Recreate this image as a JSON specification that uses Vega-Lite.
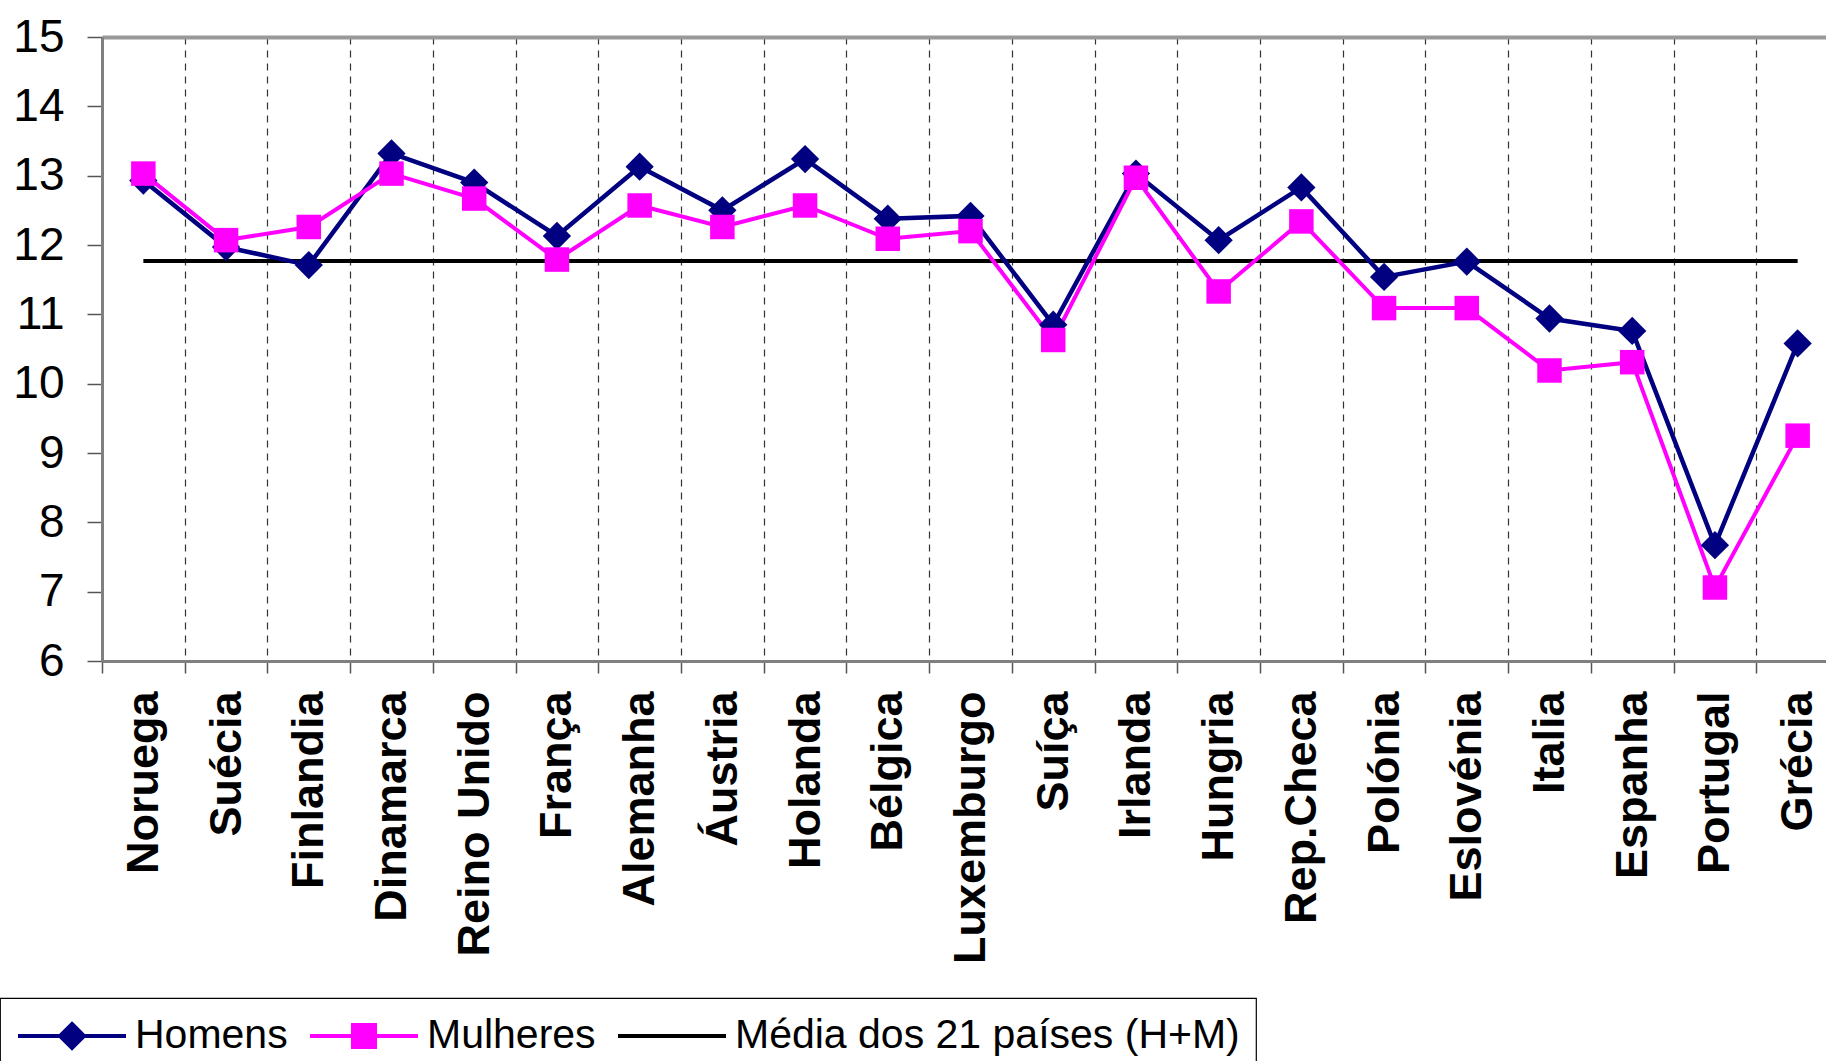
{
  "$schema": "https://vega.github.io/schema/vega-lite/v6.json",
  "width": 1724,
  "height": 624,
  "autosize": {"type": "none"},
  "padding": {"left": 102, "top": 37, "right": 0, "bottom": 400},
  "background": "white",
  "config": {
    "font": "Liberation Sans",
    "view": {"stroke": null}
  },
  "data": {
    "values": [
      {"pais": "Noruega", "serie": "Homens", "valor": 12.93},
      {"pais": "Suécia", "serie": "Homens", "valor": 11.97},
      {"pais": "Finlandia", "serie": "Homens", "valor": 11.71},
      {"pais": "Dinamarca", "serie": "Homens", "valor": 13.32},
      {"pais": "Reino Unido", "serie": "Homens", "valor": 12.9},
      {"pais": "França", "serie": "Homens", "valor": 12.13},
      {"pais": "Alemanha", "serie": "Homens", "valor": 13.13},
      {"pais": "Áustria", "serie": "Homens", "valor": 12.5},
      {"pais": "Holanda", "serie": "Homens", "valor": 13.24},
      {"pais": "Bélgica", "serie": "Homens", "valor": 12.38},
      {"pais": "Luxemburgo", "serie": "Homens", "valor": 12.42},
      {"pais": "Suíça", "serie": "Homens", "valor": 10.85},
      {"pais": "Irlanda", "serie": "Homens", "valor": 13.03},
      {"pais": "Hungria", "serie": "Homens", "valor": 12.07},
      {"pais": "Rep.Checa", "serie": "Homens", "valor": 12.83},
      {"pais": "Polónia", "serie": "Homens", "valor": 11.54},
      {"pais": "Eslovénia", "serie": "Homens", "valor": 11.76},
      {"pais": "Italia", "serie": "Homens", "valor": 10.94},
      {"pais": "Espanha", "serie": "Homens", "valor": 10.76},
      {"pais": "Portugal", "serie": "Homens", "valor": 7.67},
      {"pais": "Grécia", "serie": "Homens", "valor": 10.58},
      {"pais": "Noruega", "serie": "Mulheres", "valor": 13.03},
      {"pais": "Suécia", "serie": "Mulheres", "valor": 12.07},
      {"pais": "Finlandia", "serie": "Mulheres", "valor": 12.26},
      {"pais": "Dinamarca", "serie": "Mulheres", "valor": 13.03},
      {"pais": "Reino Unido", "serie": "Mulheres", "valor": 12.67},
      {"pais": "França", "serie": "Mulheres", "valor": 11.79},
      {"pais": "Alemanha", "serie": "Mulheres", "valor": 12.57},
      {"pais": "Áustria", "serie": "Mulheres", "valor": 12.26},
      {"pais": "Holanda", "serie": "Mulheres", "valor": 12.57},
      {"pais": "Bélgica", "serie": "Mulheres", "valor": 12.09},
      {"pais": "Luxemburgo", "serie": "Mulheres", "valor": 12.2},
      {"pais": "Suíça", "serie": "Mulheres", "valor": 10.63},
      {"pais": "Irlanda", "serie": "Mulheres", "valor": 12.97},
      {"pais": "Hungria", "serie": "Mulheres", "valor": 11.33},
      {"pais": "Rep.Checa", "serie": "Mulheres", "valor": 12.34},
      {"pais": "Polónia", "serie": "Mulheres", "valor": 11.09},
      {"pais": "Eslovénia", "serie": "Mulheres", "valor": 11.09},
      {"pais": "Italia", "serie": "Mulheres", "valor": 10.19},
      {"pais": "Espanha", "serie": "Mulheres", "valor": 10.31},
      {"pais": "Portugal", "serie": "Mulheres", "valor": 7.06},
      {"pais": "Grécia", "serie": "Mulheres", "valor": 9.25},
      {"pais": "Noruega", "serie": "Média dos 21 países (H+M)", "valor": 11.77},
      {"pais": "Suécia", "serie": "Média dos 21 países (H+M)", "valor": 11.77},
      {"pais": "Finlandia", "serie": "Média dos 21 países (H+M)", "valor": 11.77},
      {"pais": "Dinamarca", "serie": "Média dos 21 países (H+M)", "valor": 11.77},
      {"pais": "Reino Unido", "serie": "Média dos 21 países (H+M)", "valor": 11.77},
      {"pais": "França", "serie": "Média dos 21 países (H+M)", "valor": 11.77},
      {"pais": "Alemanha", "serie": "Média dos 21 países (H+M)", "valor": 11.77},
      {"pais": "Áustria", "serie": "Média dos 21 países (H+M)", "valor": 11.77},
      {"pais": "Holanda", "serie": "Média dos 21 países (H+M)", "valor": 11.77},
      {"pais": "Bélgica", "serie": "Média dos 21 países (H+M)", "valor": 11.77},
      {"pais": "Luxemburgo", "serie": "Média dos 21 países (H+M)", "valor": 11.77},
      {"pais": "Suíça", "serie": "Média dos 21 países (H+M)", "valor": 11.77},
      {"pais": "Irlanda", "serie": "Média dos 21 países (H+M)", "valor": 11.77},
      {"pais": "Hungria", "serie": "Média dos 21 países (H+M)", "valor": 11.77},
      {"pais": "Rep.Checa", "serie": "Média dos 21 países (H+M)", "valor": 11.77},
      {"pais": "Polónia", "serie": "Média dos 21 países (H+M)", "valor": 11.77},
      {"pais": "Eslovénia", "serie": "Média dos 21 países (H+M)", "valor": 11.77},
      {"pais": "Italia", "serie": "Média dos 21 países (H+M)", "valor": 11.77},
      {"pais": "Espanha", "serie": "Média dos 21 países (H+M)", "valor": 11.77},
      {"pais": "Portugal", "serie": "Média dos 21 países (H+M)", "valor": 11.77},
      {"pais": "Grécia", "serie": "Média dos 21 países (H+M)", "valor": 11.77}
    ]
  },
  "encoding": {
    "y": {
      "field": "valor",
      "type": "quantitative",
      "scale": {"domain": [6, 15], "nice": false, "zero": false},
      "axis": {
        "title": null,
        "values": [6, 7, 8, 9, 10, 11, 12, 13, 14, 15],
        "grid": false,
        "domainColor": "#808080",
        "domainWidth": 3,
        "tickColor": "#555555",
        "tickWidth": 1.5,
        "tickSize": 15,
        "labelFont": "Liberation Sans",
        "labelFontSize": 46,
        "labelColor": "black",
        "labelPadding": 23,
        "labelBaseline": "middle"
      }
    },
    "color": {
      "field": "serie",
      "type": "nominal",
      "scale": {
        "domain": ["Homens", "Mulheres", "Média dos 21 países (H+M)"],
        "range": ["#000080", "#FF00FF", "#000000"]
      },
      "legend": {
        "title": null,
        "orient": "none",
        "legendX": -102,
        "legendY": 961,
        "direction": "horizontal",
        "strokeColor": "black",
        "fillColor": "white",
        "padding": 16,
        "labelFont": "Liberation Sans",
        "labelFontSize": 41,
        "labelColor": "black",
        "labelLimit": 700,
        "labelOffset": 75,
        "columnPadding": 14,
        "symbolSize": 1600,
        "symbolStrokeWidth": 4,
        "encode": {
          "legend": {
            "update": {"strokeWidth": {"value": 1.2}}
          },
          "symbols": {
            "update": {
              "shape": {"signal": "datum.value === 'Homens' ? 'M-1,0H4.4M1.7,-0.6L2.3,0L1.7,0.6L1.1,0Z' : datum.value === 'Mulheres' ? 'M-1,0H4.4M1.15,-0.55H2.25V0.55H1.15Z' : 'M-1,0H4.4'"},
              "fill": {"scale": "color", "field": "value"},
              "stroke": {"scale": "color", "field": "value"},
              "strokeWidth": {"value": 4}
            }
          }
        }
      }
    }
  },
  "layer": [
    {
      "transform": [{"filter": "datum.serie === 'Média dos 21 países (H+M)'"}],
      "mark": {"type": "line", "strokeWidth": 4},
      "encoding": {
        "x": {
          "field": "pais",
          "type": "nominal",
          "sort": null,
          "scale": {"range": [0, 1737], "paddingInner": 0, "paddingOuter": 0},
          "axis": {
            "title": null,
            "orient": "bottom",
            "tickBand": "extent",
            "grid": true,
            "gridColor": "#333333",
            "gridDash": [7, 6],
            "gridWidth": 1.2,
            "domainColor": "#808080",
            "domainWidth": 3,
            "tickColor": "#555555",
            "tickWidth": 1.5,
            "tickSize": 12,
            "labelAngle": -90,
            "labelFont": "Liberation Sans",
            "labelFontWeight": "bold",
            "labelFontSize": 45,
            "labelColor": "black",
            "labelPadding": 18,
            "labelLimit": 500,
            "labelOverlap": false
          }
        }
      }
    },
    {
      "transform": [{"filter": "datum.serie !== 'Média dos 21 países (H+M)'"}],
      "mark": {"type": "line"},
      "encoding": {
        "x": {"field": "pais", "type": "nominal", "sort": null, "axis": null},
        "strokeWidth": {
          "field": "serie",
          "type": "nominal",
          "scale": {"domain": ["Homens", "Mulheres"], "range": [4.5, 4]},
          "legend": null
        }
      }
    },
    {
      "transform": [{"filter": "datum.serie !== 'Média dos 21 países (H+M)'"}],
      "mark": {"type": "point", "filled": true, "opacity": 1},
      "encoding": {
        "x": {
          "field": "pais",
          "type": "nominal",
          "sort": null,
          "axis": {
            "orient": "top",
            "title": null,
            "labels": false,
            "ticks": false,
            "grid": false,
            "domainColor": "#999999",
            "domainWidth": 4
          }
        },
        "shape": {
          "field": "serie",
          "type": "nominal",
          "scale": {"domain": ["Homens", "Mulheres"], "range": ["diamond", "square"]},
          "legend": null
        },
        "size": {
          "field": "serie",
          "type": "nominal",
          "scale": {"domain": ["Homens", "Mulheres"], "range": [800, 600]},
          "legend": null
        }
      }
    }
  ],
  "resolve": {"axis": {"x": "independent"}}
}
